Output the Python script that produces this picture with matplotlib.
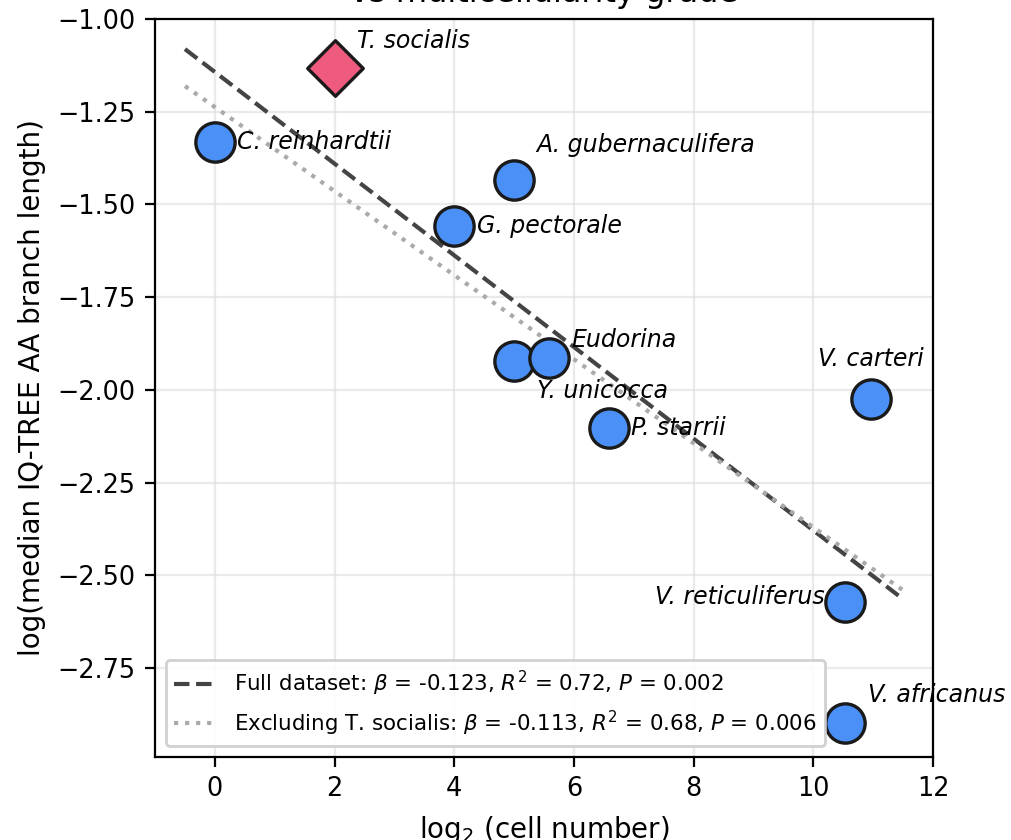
import matplotlib.pyplot as plt
import numpy as np

# species, log2(cell number), log(median branch length)
species = ["C. reinhardtii", "T. socialis", "G. pectorale", "A. gubernaculifera",
           "Y. unicocca", "Eudorina", "P. starrii", "V. carteri",
           "V. reticuliferus", "V. africanus"]
log2_cells = [0.0, 2.0, 4.0, 5.0, 5.0, 5.585, 6.585, 10.97, 10.53, 10.53]
log_branch = [-1.332, -1.132, -1.558, -1.434, -1.922, -1.914, -2.103, -2.025, -2.572, -2.898]

# label offsets (points) and alignment
label_dx = [8, 8, 8, 8, 8.3, 8, 8, -19.4, -7.2, 8.3]
label_dy = [0, 9.7, 0, 12.6, -10.8, 6.5, 0, 14.4, 1.8, 10]
label_ha = ["left"] * 8 + ["right", "left"]

# regression fits (slope, intercept)
fit_full = (-0.1236, -1.143)
fit_excl = (-0.1133, -1.2376)
fit_x = [-0.5, 11.5]

fig = plt.figure(figsize=(5.06, 4.2), dpi=200)
ax = fig.add_axes([0.1532, 0.0988, 0.922 - 0.1532, 0.9774 - 0.0988])

xs = np.array(fit_x)
ax.plot(xs, fit_full[0] * xs + fit_full[1], '--', color='#444444', lw=1.5,
        label=r'Full dataset: $\beta$ = -0.123, $R^2$ = 0.72, $P$ = 0.002', zorder=2)
ax.plot(xs, fit_excl[0] * xs + fit_excl[1], ':', color='#aaaaaa', lw=1.5,
        label=r'Excluding T. socialis: $\beta$ = -0.113, $R^2$ = 0.68, $P$ = 0.006', zorder=2)

for i, name in enumerate(species):
    if name == "T. socialis":
        ax.scatter(log2_cells[i], log_branch[i], s=200, marker='D', color='#ef5b7f',
                   edgecolor='#1a1a1a', linewidth=1.2, zorder=3)
    else:
        ax.scatter(log2_cells[i], log_branch[i], s=200, marker='o', color='#4a90f7',
                   edgecolor='#1a1a1a', linewidth=1.2, zorder=3)
    ax.annotate(name, (log2_cells[i], log_branch[i]), xytext=(label_dx[i], label_dy[i]),
                textcoords='offset points', ha=label_ha[i], va='center',
                fontsize=8.5, style='italic', zorder=4)

ax.set_xlim(-1, 12)
ax.set_ylim(-2.99, -1.0)
ax.set_xticks([0, 2, 4, 6, 8, 10, 12])
ax.set_yticks([-1.0, -1.25, -1.5, -1.75, -2.0, -2.25, -2.5, -2.75])
ax.tick_params(labelsize=9.2)
ax.grid(True, color='#dddddd', alpha=0.6, lw=0.8)
ax.set_axisbelow(True)

ax.set_xlabel(r'log$_2$ (cell number)', fontsize=10)
ax.set_ylabel('log(median IQ-TREE AA branch length)', fontsize=10)
ax.set_title('vs multicellularity grade', fontsize=11.5)
ax.legend(loc='lower left', fontsize=7.7, framealpha=0.9)

fig.savefig('out.png', dpi=200)
